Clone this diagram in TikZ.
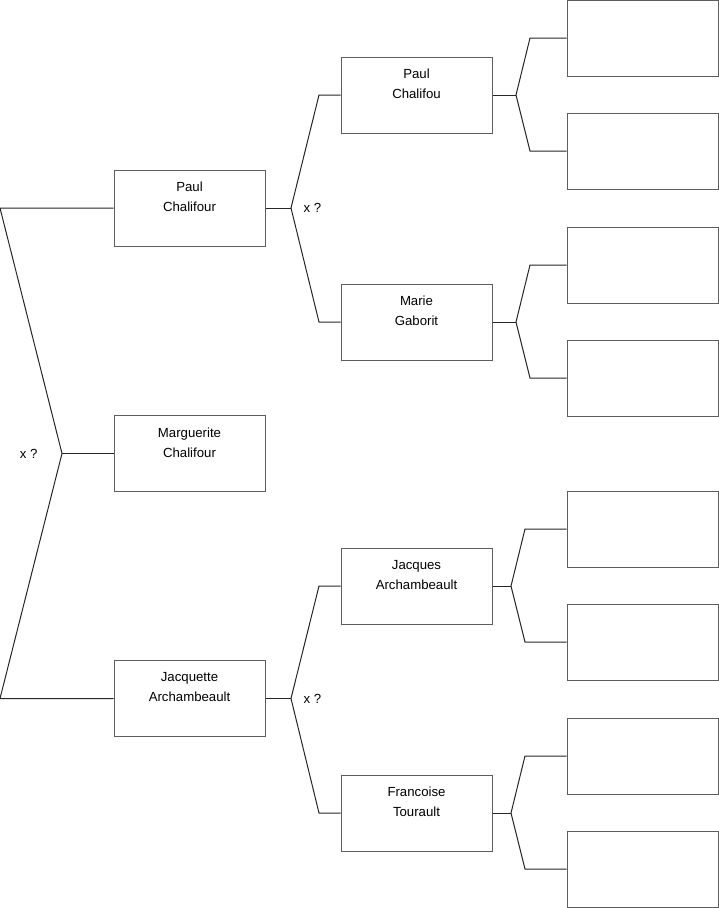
\documentclass[tikz,border=0pt]{standalone}
\usepackage{fontspec}
\setmainfont{Liberation Sans}
\usetikzlibrary{positioning,calc}
\definecolor{boxgray}{HTML}{5E5E5E}
\definecolor{linegray}{HTML}{262626}

\begin{document}
\begin{tikzpicture}[
  x=1pt, y=-1pt,
  person/.style={draw=boxgray, line width=1pt, minimum width=151pt,
                 minimum height=76pt, inner sep=0pt},
  pname/.style={anchor=north, align=center, inner sep=0pt,
               font=\fontsize{13.2}{20}\selectfont, text=black},
  link/.style={draw=linegray, line width=1pt},
  xlbl/.style={font=\fontsize{13.2}{15}\selectfont, text=black},
]
\useasboundingbox (0,0) rectangle (719,908);

%% ---- first generation ----
\node[person] (pc) at (189.5,208) {};
\node[pname] at ($(pc.north)+(0,12.5)$) {Paul\\Chalifour};
\node[person] (mc) at (189.5,453.5) {};
\node[pname] at ($(mc.north)+(0,12.5)$) {Marguerite\\Chalifour};
\node[person] (ja) at (189.5,698.5) {};
\node[pname] at ($(ja.north)+(0,12.5)$) {Jacquette\\Archambeault};

%% ---- second generation ----
\node[person] (pcf) at (416.5,95) {};
\node[pname] at ($(pcf.north)+(0,12.5)$) {Paul\\Chalifou};
\node[person] (mg) at (416.5,322) {};
\node[pname] at ($(mg.north)+(0,12.5)$) {Marie\\Gaborit};
\node[person] (jar) at (416.5,586) {};
\node[pname] at ($(jar.north)+(0,12.5)$) {Jacques\\Archambeault};
\node[person] (ft) at (416.5,813) {};
\node[pname] at ($(ft.north)+(0,12.5)$) {Francoise\\Tourault};

%% ---- third generation (empty) ----
\foreach \y [count=\i] in {38,151,265,378,529,642,756,869}
  \node[person] (r\i) at (642.5,\y) {};

%% ---- junctions ----
\coordinate (jm) at (62,453.5);
\coordinate (lt) at (0,208);
\coordinate (lb) at (0,698.5);
\coordinate (jp) at (291,208);
\coordinate (jj) at (291,698.5);

\node[xlbl, left=21pt of jm] (xm) {x ?};
\node[xlbl, right=9pt of jp] (xp) {x ?};
\node[xlbl, right=9pt of jj] (xj) {x ?};

%% ---- connectors, child to parents ----
\draw[link] (pc.west) -- (lt) -- (jm) -- (lb) -- (ja.west);
\draw[link] (jm) -- (mc.west);

\draw[link] (pc.east) -- (jp);
\draw[link] (pcf.west) -- (319,95) -- (jp) -- (319,322) -- (mg.west);
\draw[link] (ja.east) -- (jj);
\draw[link] (jar.west) -- (319,586) -- (jj) -- (319,813) -- (ft.west);

\draw[link] (pcf.east) -- (516,95);
\draw[link] (r1.west) -- (530,38) -- (516,95) -- (530,151) -- (r2.west);
\draw[link] (mg.east) -- (516,322);
\draw[link] (r3.west) -- (530,265) -- (516,322) -- (530,378) -- (r4.west);
\draw[link] (jar.east) -- (511,586);
\draw[link] (r5.west) -- (525,529) -- (511,586) -- (525,642) -- (r6.west);
\draw[link] (ft.east) -- (511,813);
\draw[link] (r7.west) -- (525,756) -- (511,813) -- (525,869) -- (r8.west);

\end{tikzpicture}
\end{document}
